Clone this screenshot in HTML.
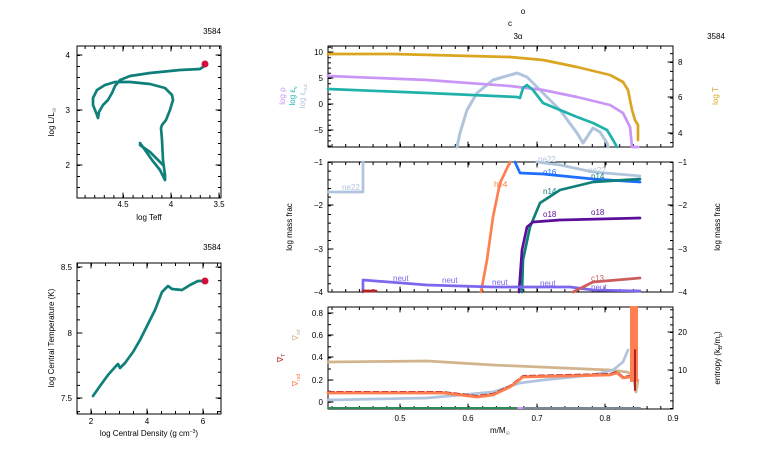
<!DOCTYPE html>
<html><head><meta charset="utf-8"><style>
html,body{margin:0;padding:0;background:#fff;}
svg{display:block;font-family:"Liberation Sans",sans-serif;}
text{font-size:8px;fill:#000;}
</style></head><body>
<svg width="766" height="460" viewBox="0 0 766 460" xmlns="http://www.w3.org/2000/svg">
<g fill="none" stroke-linejoin="round" stroke-linecap="round">

<!-- minor ticks -->
<g stroke="#000" stroke-linecap="butt">
<!-- HR -->
<line x1="77" y1="196.5" x2="221" y2="196.5" stroke-width="3" stroke-dasharray="1 8.6" stroke-dashoffset="2"/>
<line x1="77" y1="47.5" x2="221" y2="47.5" stroke-width="3" stroke-dasharray="1 8.6" stroke-dashoffset="2"/>
<line x1="78.5" y1="46" x2="78.5" y2="198" stroke-width="3" stroke-dasharray="1 10" stroke-dashoffset="2"/>
<line x1="219.5" y1="46" x2="219.5" y2="198" stroke-width="3" stroke-dasharray="1 10" stroke-dashoffset="2"/>
<!-- Tc -->
<line x1="77" y1="412.5" x2="221" y2="412.5" stroke-width="3" stroke-dasharray="1 13" stroke-dashoffset="0"/>
<line x1="77" y1="264.5" x2="221" y2="264.5" stroke-width="3" stroke-dasharray="1 13" stroke-dashoffset="0"/>
<line x1="78.5" y1="263" x2="78.5" y2="414" stroke-width="3" stroke-dasharray="1 12.1" stroke-dashoffset="9.1"/>
<line x1="219.5" y1="263" x2="219.5" y2="414" stroke-width="3" stroke-dasharray="1 12.1" stroke-dashoffset="9.1"/>
<!-- right panels x -->
<line x1="328" y1="145.5" x2="673" y2="145.5" stroke-width="3" stroke-dasharray="1 12.7" stroke-dashoffset="10.2"/>
<line x1="328" y1="47.5" x2="673" y2="47.5" stroke-width="3" stroke-dasharray="1 12.7" stroke-dashoffset="10.2"/>
<line x1="328" y1="290.5" x2="673" y2="290.5" stroke-width="3" stroke-dasharray="1 12.7" stroke-dashoffset="10.2"/>
<line x1="328" y1="163.5" x2="673" y2="163.5" stroke-width="3" stroke-dasharray="1 12.7" stroke-dashoffset="10.2"/>
<line x1="328" y1="407.5" x2="673" y2="407.5" stroke-width="3" stroke-dasharray="1 12.7" stroke-dashoffset="10.2"/>
<line x1="328" y1="308.5" x2="673" y2="308.5" stroke-width="3" stroke-dasharray="1 12.7" stroke-dashoffset="10.2"/>
<!-- top y -->
<line x1="329.5" y1="46" x2="329.5" y2="147" stroke-width="3" stroke-dasharray="1 4.2" stroke-dashoffset="4.4"/>
<line x1="671.5" y1="46" x2="671.5" y2="147" stroke-width="3" stroke-dasharray="1 7.9" stroke-dashoffset="1.8"/>
<!-- middle y -->
<line x1="329.5" y1="162" x2="329.5" y2="292" stroke-width="3" stroke-dasharray="1 7.66" stroke-dashoffset="0"/>
<line x1="671.5" y1="162" x2="671.5" y2="292" stroke-width="3" stroke-dasharray="1 7.66" stroke-dashoffset="0"/>
<!-- bottom y -->
<line x1="329.5" y1="307" x2="329.5" y2="409" stroke-width="3" stroke-dasharray="1 10.1" stroke-dashoffset="5.1"/>
<line x1="671.5" y1="307" x2="671.5" y2="409" stroke-width="3" stroke-dasharray="1 6.6" stroke-dashoffset="5.4"/>
</g>

<!-- ===== HR diagram ===== -->
<rect x="77" y="46" width="144" height="152" stroke="#000" stroke-width="1"/>
<g stroke="#000" stroke-width="1">
<line x1="123" y1="198" x2="123" y2="193"/><line x1="171" y1="198" x2="171" y2="193"/><line x1="219" y1="198" x2="219" y2="193"/>
<line x1="123" y1="46" x2="123" y2="51"/><line x1="171" y1="46" x2="171" y2="51"/>
<line x1="77" y1="55" x2="82" y2="55"/><line x1="77" y1="110" x2="82" y2="110"/><line x1="77" y1="165" x2="82" y2="165"/>
<line x1="221" y1="55" x2="216" y2="55"/><line x1="221" y1="110" x2="216" y2="110"/><line x1="221" y1="165" x2="216" y2="165"/>
</g>
<polyline stroke="#0f7f7a" stroke-width="2.7" points="140,143 145,150 152,160 160,170 165,180 165,175 163,160 162,140 161,128 162,125 166,120 170,110 173,100 172,95 165,88 150,84 130,82 115,82 105,85 97,90 93,98 93,105 95,110 97,115 98,118 99,112 103,105 108,100 112,93 115,86 120,80 130,76 150,73 180,70 200,69 206,65"/>
<polyline stroke="#0f7f7a" stroke-width="2.7" points="140,145 150,152 158,160 163,165"/>
<circle cx="205" cy="64" r="3.5" fill="#d0103a" stroke="none"/>

<!-- ===== Tc-rhoc ===== -->
<rect x="77" y="263" width="144" height="151" stroke="#000" stroke-width="1"/>
<g stroke="#000" stroke-width="1">
<line x1="91" y1="414" x2="91" y2="409"/><line x1="147" y1="414" x2="147" y2="409"/><line x1="203" y1="414" x2="203" y2="409"/>
<line x1="91" y1="263" x2="91" y2="268"/><line x1="147" y1="263" x2="147" y2="268"/><line x1="203" y1="263" x2="203" y2="268"/>
<line x1="77" y1="267" x2="82" y2="267"/><line x1="77" y1="333" x2="82" y2="333"/><line x1="77" y1="398" x2="82" y2="398"/>
<line x1="221" y1="267" x2="216" y2="267"/><line x1="221" y1="333" x2="216" y2="333"/><line x1="221" y1="398" x2="216" y2="398"/>
</g>
<polyline stroke="#0f7f7a" stroke-width="2.7" points="93,396 100,386 108,375 116,366 118,364 120,368 125,363 133,352 140,340 147,326 155,310 162,292 168,286 172,289 182,290 190,285 198,281 204,281"/>
<circle cx="205" cy="281" r="3.5" fill="#d0103a" stroke="none"/>

<!-- ===== Right top ===== -->
<rect x="328" y="46" width="345" height="101" stroke="#000" stroke-width="1"/>
<g stroke="#000" stroke-width="1">
<line x1="328" y1="52" x2="333" y2="52"/><line x1="328" y1="78" x2="333" y2="78"/><line x1="328" y1="104" x2="333" y2="104"/><line x1="328" y1="130" x2="333" y2="130"/>
<line x1="673" y1="62" x2="668" y2="62"/><line x1="673" y1="97" x2="668" y2="97"/><line x1="673" y1="133" x2="668" y2="133"/>
<line x1="400" y1="147" x2="400" y2="142"/><line x1="468" y1="147" x2="468" y2="142"/><line x1="537" y1="147" x2="537" y2="142"/><line x1="605" y1="147" x2="605" y2="142"/>
<line x1="400" y1="46" x2="400" y2="51"/><line x1="468" y1="46" x2="468" y2="51"/><line x1="537" y1="46" x2="537" y2="51"/><line x1="605" y1="46" x2="605" y2="51"/>
</g>
<polyline stroke="#b0c4de" stroke-width="3" points="457,147 460,133 467,110 477,93 493,80 517,73 527,77 543,93 560,110 577,133 583,143 587,137 593,128 600,132 607,143 608,147"/>
<polyline stroke="#daa520" stroke-width="2.7" points="328,54 393,54 510,57 543,60 577,67 610,75 623,82 628,90 632,110 635,120 638,125 638,140"/>
<polyline stroke="#c996f5" stroke-width="2.7" points="328,76 427,80 510,86 543,90 577,97 610,105 623,113 630,127 632,147 638,147"/>
<polyline stroke="#20b2aa" stroke-width="2.7" points="328,89 427,93 517,97 520,98 523,88 527,85 533,90 543,103 560,110 577,117 593,123 607,130 613,140 617,147"/>

<!-- ===== Right middle ===== -->
<rect x="328" y="162" width="345" height="130" stroke="#000" stroke-width="1"/>
<g stroke="#000" stroke-width="1">
<line x1="328" y1="205" x2="333" y2="205"/><line x1="328" y1="249" x2="333" y2="249"/>
<line x1="673" y1="205" x2="668" y2="205"/><line x1="673" y1="249" x2="668" y2="249"/>
<line x1="400" y1="292" x2="400" y2="287"/><line x1="468" y1="292" x2="468" y2="287"/><line x1="537" y1="292" x2="537" y2="287"/><line x1="605" y1="292" x2="605" y2="287"/>
<line x1="400" y1="162" x2="400" y2="167"/><line x1="468" y1="162" x2="468" y2="167"/><line x1="537" y1="162" x2="537" y2="167"/><line x1="605" y1="162" x2="605" y2="167"/>
</g>
<polyline stroke="#b0c4de" stroke-width="2.7" points="328,192 363,192 363,162"/>
<polyline stroke="#b0c4de" stroke-width="2.7" points="537,162 560,165 593,172 640,176"/>
<polyline stroke="#1e6fff" stroke-width="2.7" points="515,162 520,173 543,174 593,179 640,182"/>
<polyline stroke="#0f7f7a" stroke-width="2.7" points="522,292 523,260 530,227 540,203 560,190 593,182 640,179"/>
<polyline stroke="#5b0f9a" stroke-width="2.7" points="519,292 522,250 527,227 533,222 560,220 640,218"/>
<polyline stroke="#ff7f50" stroke-width="2.7" points="481,292 487,260 493,217 500,183 510,162"/>
<polyline stroke="#7b68ee" stroke-width="2.7" points="363,292 363,280 427,285 493,287 570,287 593,290 640,291"/>
<polyline stroke="#cd5c5c" stroke-width="2.7" points="573,292 593,282 640,278"/>
<polyline stroke="#b22222" stroke-width="2.7" points="363,291 376,291"/>

<!-- ===== Right bottom ===== -->
<rect x="328" y="307" width="345" height="102" stroke="#000" stroke-width="1"/>
<g stroke="#000" stroke-width="1">
<line x1="328" y1="313" x2="333" y2="313"/><line x1="328" y1="335" x2="333" y2="335"/><line x1="328" y1="357" x2="333" y2="357"/><line x1="328" y1="380" x2="333" y2="380"/><line x1="328" y1="402" x2="333" y2="402"/>
<line x1="673" y1="332" x2="668" y2="332"/><line x1="673" y1="370" x2="668" y2="370"/>
<line x1="400" y1="409" x2="400" y2="404"/><line x1="468" y1="409" x2="468" y2="404"/><line x1="537" y1="409" x2="537" y2="404"/><line x1="605" y1="409" x2="605" y2="404"/>
<line x1="400" y1="307" x2="400" y2="312"/><line x1="468" y1="307" x2="468" y2="312"/><line x1="537" y1="307" x2="537" y2="312"/><line x1="605" y1="307" x2="605" y2="312"/>
</g>
<polyline stroke="#d2b48c" stroke-width="2.7" points="328,362 427,361 493,365 610,370 627,372 633,375 636,392 638,380"/>
<polyline stroke="#b0c4de" stroke-width="2.7" points="328,400 427,398 493,392 520,383 543,380 593,375 613,370 623,362 628,350"/>
<polyline stroke="#b22222" stroke-width="2" stroke-dasharray="6,3" points="328,392 443,392 477,396 493,394 510,386 523,376 610,374 617,372 623,377 630,376"/>
<polyline stroke="#ff7f50" stroke-width="2.7" points="328,393 443,393 477,397 493,395 510,387 523,377 610,375 617,373 623,378 630,377"/>
<rect x="630" y="306" width="8" height="76" fill="#ff7f50" stroke="none"/>
<line x1="635" y1="350" x2="635" y2="390" stroke="#b22222" stroke-width="2"/>
<line x1="328" y1="408" x2="518" y2="408" stroke="#2e8b57" stroke-width="2"/>
<line x1="518" y1="408" x2="524" y2="408" stroke="#c996f5" stroke-width="2"/>
<line x1="524" y1="408" x2="640" y2="408" stroke="#778899" stroke-width="2"/>
</g>

<!-- ===== Text ===== -->
<g>
<text x="212" y="34" text-anchor="middle" font-size="7">3584</text>
<text x="123" y="207" text-anchor="middle">4.5</text>
<text x="171" y="207" text-anchor="middle">4</text>
<text x="219" y="207" text-anchor="middle">3.5</text>
<text x="70" y="58" text-anchor="end">4</text>
<text x="70" y="113" text-anchor="end">3</text>
<text x="70" y="168" text-anchor="end">2</text>
<text x="149" y="220" text-anchor="middle" font-size="7">log Teff</text>
<text transform="translate(54,122) rotate(-90)" text-anchor="middle" font-size="7">log L/L<tspan font-size="5" dy="2">☉</tspan></text>

<text x="212" y="250" text-anchor="middle" font-size="7">3584</text>
<text x="91" y="424" text-anchor="middle">2</text>
<text x="147" y="424" text-anchor="middle">4</text>
<text x="203" y="424" text-anchor="middle">6</text>
<text x="72" y="270" text-anchor="end">8.5</text>
<text x="72" y="336" text-anchor="end">8</text>
<text x="72" y="401" text-anchor="end">7.5</text>
<text x="149" y="436" text-anchor="middle" font-size="7">log Central Density (g cm<tspan font-size="5" dy="-3">−3</tspan><tspan dy="3">)</tspan></text>
<text transform="translate(54,338) rotate(-90)" text-anchor="middle" font-size="7">log Central Temperature (K)</text>

<text x="523" y="14" text-anchor="middle" font-size="7">o</text>
<text x="510" y="26" text-anchor="middle" font-size="7">c</text>
<text x="518" y="39" text-anchor="middle" font-size="7">3α</text>
<text x="716" y="39" text-anchor="middle" font-size="7">3584</text>

<text x="323" y="55" text-anchor="end">10</text>
<text x="323" y="81" text-anchor="end">5</text>
<text x="323" y="107" text-anchor="end">0</text>
<text x="323" y="133" text-anchor="end">−5</text>
<text x="678" y="65">8</text>
<text x="678" y="100">6</text>
<text x="678" y="136">4</text>
<text transform="translate(285,96) rotate(-90)" text-anchor="middle" font-size="7" style="fill:#c996f5">log ρ</text>
<text transform="translate(295,96) rotate(-90)" text-anchor="middle" font-size="7" style="fill:#20b2aa">log ε<tspan font-size="5" dy="2">v</tspan></text>
<text transform="translate(305,96) rotate(-90)" text-anchor="middle" font-size="7" style="fill:#b0c4de">log ε<tspan font-size="5" dy="2">nuc</tspan></text>
<text transform="translate(718,96) rotate(-90)" text-anchor="middle" font-size="7" style="fill:#daa520">log T</text>

<text x="323" y="165" text-anchor="end">−1</text>
<text x="323" y="208" text-anchor="end">−2</text>
<text x="323" y="252" text-anchor="end">−3</text>
<text x="323" y="295" text-anchor="end">−4</text>
<text x="678" y="165">−1</text>
<text x="678" y="208">−2</text>
<text x="678" y="252">−3</text>
<text x="678" y="295">−4</text>
<text transform="translate(292,227) rotate(-90)" text-anchor="middle" font-size="7">log mass frac</text>
<text transform="translate(720,227) rotate(-90)" text-anchor="middle" font-size="7">log mass frac</text>
<text x="342" y="190" style="fill:#b0c4de" font-size="7">ne22</text>
<text x="538" y="162" style="fill:#b0c4de" font-size="7">ne22</text>
<text x="588" y="173" style="fill:#b0c4de" font-size="7">ne22</text>
<text x="543" y="175" style="fill:#1e6fff" font-size="7">o16</text>
<text x="591" y="179" style="fill:#0f7f7a" font-size="7">n14</text>
<text x="543" y="194" style="fill:#0f7f7a" font-size="7">n14</text>
<text x="494" y="187" style="fill:#ff7f50" font-size="7">he4</text>
<text x="543" y="217" style="fill:#5b0f9a" font-size="7">o18</text>
<text x="591" y="215" style="fill:#5b0f9a" font-size="7">o18</text>
<text x="393" y="281" style="fill:#7b68ee" font-size="7">neut</text>
<text x="442" y="283" style="fill:#7b68ee" font-size="7">neut</text>
<text x="492" y="285" style="fill:#7b68ee" font-size="7">neut</text>
<text x="540" y="286" style="fill:#7b68ee" font-size="7">neut</text>
<text x="591" y="290" style="fill:#7b68ee" font-size="7">neut</text>
<text x="591" y="281" style="fill:#cd5c5c" font-size="7">c13</text>

<text x="323" y="316" text-anchor="end">0.8</text>
<text x="323" y="338" text-anchor="end">0.6</text>
<text x="323" y="360" text-anchor="end">0.4</text>
<text x="323" y="383" text-anchor="end">0.2</text>
<text x="323" y="405" text-anchor="end">0</text>
<text x="678" y="335">20</text>
<text x="678" y="373">10</text>
<text x="400" y="421" text-anchor="middle">0.5</text>
<text x="468" y="421" text-anchor="middle">0.6</text>
<text x="537" y="421" text-anchor="middle">0.7</text>
<text x="605" y="421" text-anchor="middle">0.8</text>
<text x="673" y="421" text-anchor="middle">0.9</text>
<text x="500" y="433" text-anchor="middle" font-size="8">m/M<tspan font-size="5" dy="2">☉</tspan></text>
<text transform="translate(298,335) rotate(-90)" text-anchor="middle" font-size="7" style="fill:#d2b48c">∇<tspan font-size="5" dy="2">ad</tspan></text>
<text transform="translate(283,358) rotate(-90)" text-anchor="middle" font-size="7" style="fill:#b22222">∇<tspan font-size="5" dy="2">T</tspan></text>
<text transform="translate(298,380) rotate(-90)" text-anchor="middle" font-size="7" style="fill:#ff7f50">∇<tspan font-size="5" dy="2">rad</tspan></text>
<text transform="translate(720,358) rotate(-90)" text-anchor="middle" font-size="7">entropy (k<tspan font-size="5" dy="2">B</tspan><tspan dy="-2">/m</tspan><tspan font-size="5" dy="2">p</tspan><tspan dy="-2">)</tspan></text>
</g>
</svg>
</body></html>
